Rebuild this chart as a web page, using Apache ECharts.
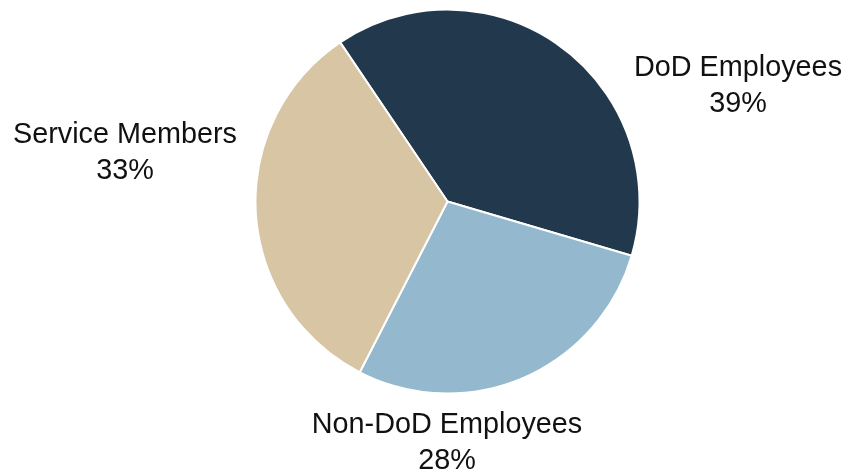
<!DOCTYPE html>
<html>
<head>
<meta charset="utf-8">
<script src="https://cdn.jsdelivr.net/npm/echarts@6/dist/echarts.min.js"></script>
<style>
html,body{margin:0;padding:0;background:#fff;}
#chart{width:848px;height:475px;}
</style>
</head>
<body>
<div id="chart"></div>
<script>
const categories = ['DoD Employees', 'Non-DoD Employees', 'Service Members'];
const shares = [39, 28, 33];
const colors = ['#22384d', '#94b9cf', '#d7c5a4'];

const labelPos = [
  { x: 738, y: 86 },
  { x: 447, y: 443 },
  { x: 125, y: 153 }
];

const chart = echarts.init(document.getElementById('chart'), null, { renderer: 'canvas' });
chart.setOption({
  animation: false,
  backgroundColor: '#ffffff',
  series: [{
    type: 'pie',
    center: [447.5, 201.5],
    radius: [0, 192],
    startAngle: 124,
    clockwise: true,
    data: categories.map((c, i) => ({ name: c, value: shares[i], itemStyle: { color: colors[i] } })),
    itemStyle: { borderColor: '#ffffff', borderWidth: 2 },
    label: {
      show: true,
      position: 'outside',
      formatter: '{b}\n{c}%',
      fontFamily: 'Liberation Sans, Arial, sans-serif',
      fontSize: 28.8,
      lineHeight: 36,
      color: '#111111',
      align: 'center',
      overflow: 'none',
      width: 400
    },
    labelLine: { show: false },
    labelLayout: function (params) {
      const p = labelPos[params.dataIndex];
      return { x: p.x, y: p.y, align: 'center', verticalAlign: 'middle' };
    },
    emphasis: { disabled: true }
  }]
});
</script>
</body>
</html>
